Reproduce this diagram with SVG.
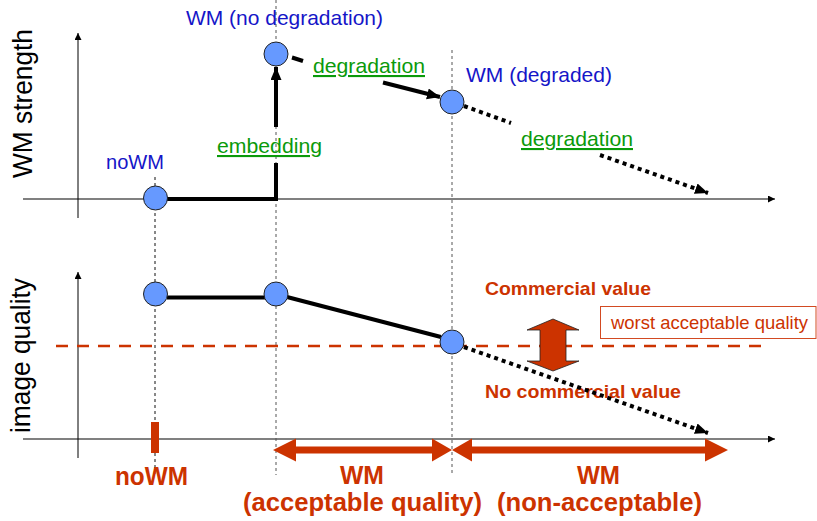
<svg xmlns="http://www.w3.org/2000/svg" width="817" height="521" viewBox="0 0 817 521">
  <style>
    .axis-x { stroke: #808080; stroke-width: 2; fill: none; }
    .axis-y { stroke: #000; stroke-width: 1; fill: none; }
    .guide { stroke: #555; stroke-width: 1; stroke-dasharray: 3 3; fill: none; }
    .guide-dark { stroke: #111; stroke-width: 1; stroke-dasharray: 3 3; fill: none; }
    .state { fill: #6699FF; stroke: #222; stroke-width: 1; }
    .path-solid { stroke: #000; stroke-width: 4; fill: none; }
    .path-dot { stroke: #000; stroke-width: 4; stroke-dasharray: 4 4; fill: none; }
    .threshold { stroke: #CC3300; stroke-width: 2.5; stroke-dasharray: 12 9; fill: none; }
    text { font-family: "Liberation Sans", Arial, Helvetica, sans-serif; }
    .axis-title { font-size: 27px; fill: #000; }
    .state-label { font-size: 21px; fill: #1515C8; }
    .action { font-size: 21px; fill: #0A9A0A; text-decoration: underline; }
    .value { font-weight: bold; font-size: 19px; fill: #CC3300; }
    .zone { font-weight: bold; font-size: 25px; fill: #CC3300; }
    .note { font-size: 18.5px; fill: #CC3300; }
    .red { fill: #CC3300; }
  </style>
  <defs>
    <marker id="axisHead" markerWidth="8" markerHeight="8" refX="7" refY="3.5" orient="auto" markerUnits="userSpaceOnUse">
      <path d="M0,0 L7,3.5 L0,7 Z" fill="#000"/>
    </marker>
    <marker id="flowHead" markerWidth="14" markerHeight="12" refX="13" refY="5.5" orient="auto" markerUnits="userSpaceOnUse">
      <path d="M0,0 L13,5.5 L0,11 Z" fill="#000"/>
    </marker>
  </defs>

  <!-- axes -->
  <g id="axes">
    <line class="axis-x" x1="23" y1="199" x2="775" y2="199" marker-end="url(#axisHead)"/>
    <line class="axis-y" x1="78" y1="218" x2="78" y2="33" marker-end="url(#axisHead)"/>
    <line class="axis-x" x1="23" y1="439" x2="775" y2="439" marker-end="url(#axisHead)"/>
    <line class="axis-y" x1="78" y1="458" x2="78" y2="272" marker-end="url(#axisHead)"/>
    <text class="axis-title" transform="translate(32,103.5) rotate(-90)" text-anchor="middle" textLength="149" lengthAdjust="spacingAndGlyphs">WM strength</text>
    <text class="axis-title" transform="translate(30,355.5) rotate(-90)" text-anchor="middle" textLength="155" lengthAdjust="spacingAndGlyphs">image quality</text>
  </g>

  <!-- vertical guides -->
  <g id="guides">
    <line class="guide-dark" x1="155" y1="177" x2="155" y2="476"/>
    <line class="guide" x1="276" y1="0" x2="276" y2="475"/>
    <line class="guide" x1="452" y1="50" x2="452" y2="475"/>
  </g>

  <!-- threshold -->
  <g id="threshold">
    <line class="threshold" x1="56" y1="346" x2="762" y2="346"/>
    <rect x="600.5" y="306.5" width="215.5" height="32" fill="#fff" stroke="#D24A22" stroke-width="1"/>
    <text class="note" x="611" y="329" textLength="197" lengthAdjust="spacingAndGlyphs">worst acceptable quality</text>
    <text class="value" x="485" y="295" textLength="166" lengthAdjust="spacingAndGlyphs">Commercial value</text>
    <text class="value" x="485" y="398" textLength="196" lengthAdjust="spacingAndGlyphs">No commercial value</text>
    <polygon class="red" stroke="#222" stroke-width="0.8" points="553,319 579,330 566,330 566,361 579,361 553,371 527,361 540,361 540,330 527,330"/>
  </g>

  <!-- connectors -->
  <g id="connectors">
    <!-- WM strength -->
    <polyline class="path-solid" points="167,199 276,199 276,163"/>
    <line class="path-solid" x1="276" y1="127" x2="276" y2="67" marker-end="url(#flowHead)"/>
    <line class="path-solid" x1="292" y1="57.5" x2="303" y2="61"/>
    <line class="path-solid" x1="383" y1="82.5" x2="440" y2="97" marker-end="url(#flowHead)"/>
    <line class="path-dot" x1="464" y1="106" x2="511" y2="123"/>
    <line class="path-dot" x1="600" y1="155" x2="708" y2="193" marker-end="url(#flowHead)"/>
    <!-- image quality -->
    <line class="path-solid" x1="167" y1="297.5" x2="265" y2="297.5"/>
    <line class="path-solid" x1="287" y1="297" x2="441" y2="337"/>
    <line class="path-dot" x1="464" y1="347" x2="708" y2="433" marker-end="url(#flowHead)"/>
  </g>

  <!-- states -->
  <g id="node-nowm-strength">
    <circle class="state" cx="155.5" cy="198" r="12"/>
    <text class="state-label" x="106" y="169" textLength="58" lengthAdjust="spacingAndGlyphs">noWM</text>
  </g>
  <g id="node-wm-strength">
    <circle class="state" cx="276" cy="54" r="12"/>
    <text class="state-label" x="186" y="25" textLength="197" lengthAdjust="spacingAndGlyphs">WM (no degradation)</text>
  </g>
  <g id="node-degraded-strength">
    <circle class="state" cx="452" cy="102" r="12"/>
    <text class="state-label" x="466" y="82" textLength="146" lengthAdjust="spacingAndGlyphs">WM (degraded)</text>
  </g>
  <g id="node-nowm-quality">
    <circle class="state" cx="155.5" cy="294" r="12"/>
  </g>
  <g id="node-wm-quality">
    <circle class="state" cx="276" cy="294" r="12"/>
  </g>
  <g id="node-degraded-quality">
    <circle class="state" cx="452" cy="342" r="12"/>
  </g>

  <!-- action labels -->
  <g id="actions">
    <text class="action" x="217" y="153" textLength="105" lengthAdjust="spacingAndGlyphs">embedding</text>
    <text class="action" x="313" y="73" textLength="112" lengthAdjust="spacingAndGlyphs">degradation</text>
    <text class="action" x="521" y="146" textLength="112" lengthAdjust="spacingAndGlyphs">degradation</text>
  </g>

  <!-- zones on the quality axis -->
  <g id="zones">
    <rect class="red" x="151" y="422" width="8" height="31"/>
    <polygon class="red" points="273,450 296,438.5 296,446.5 432,446.5 432,438.5 452,450 432,461.5 432,453.5 296,453.5 296,461.5"/>
    <polygon class="red" points="452,450 472,438.5 472,446.5 705,446.5 705,438.5 728,450 705,461.5 705,453.5 472,453.5 472,461.5"/>
    <text class="zone" x="151.5" y="485" text-anchor="middle" textLength="73" lengthAdjust="spacingAndGlyphs">noWM</text>
    <text class="zone" x="362" y="484" text-anchor="middle" textLength="44" lengthAdjust="spacingAndGlyphs">WM</text>
    <text class="zone" x="243" y="511" textLength="239" lengthAdjust="spacingAndGlyphs">(acceptable quality)</text>
    <text class="zone" x="598.5" y="484" text-anchor="middle" textLength="43" lengthAdjust="spacingAndGlyphs">WM</text>
    <text class="zone" x="497" y="511" textLength="205" lengthAdjust="spacingAndGlyphs">(non-acceptable)</text>
  </g>
</svg>
